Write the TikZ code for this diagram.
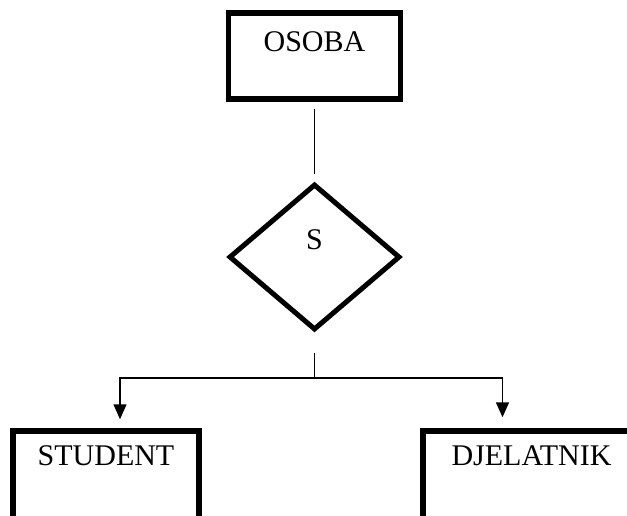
\documentclass[tikz,border=0pt]{standalone}
\usepackage{fontspec}
\setmainfont{Liberation Serif}
\usetikzlibrary{shapes.geometric,arrows.meta}
\begin{document}
\begin{tikzpicture}[x=1pt,y=-1pt,
  entity/.style={draw, rectangle, line width=5.5pt, inner sep=0pt},
  relation/.style={draw, diamond, line width=5pt, inner sep=0pt},
  caption/.style={anchor=north, inner sep=0pt, font=\fontsize{30}{32}\selectfont},
  link/.style={line width=1.5pt},
  isa/.style={link, -{Triangle[width=13pt,length=15pt]}}]
  \useasboundingbox (0,0) rectangle (627,515);
  \clip (0,0) rectangle (627,515);

  % entities
  \node[entity, minimum width=172pt, minimum height=86pt,
        label={[caption, yshift=-21pt]north:OSOBA}] (osoba) at (314.5,56) {};
  \node[entity, minimum width=186pt, minimum height=114pt,
        label={[caption, yshift=-17pt]north:STUDENT}] (student) at (106,488) {};
  \node[entity, minimum width=217pt, minimum height=114pt,
        label={[caption, yshift=-17pt]north:DJELATNIK}] (djelatnik) at (531.5,488) {};

  % specialisation
  \node[relation, minimum width=171pt, minimum height=146pt,
        label={[caption, yshift=-48pt]north:S}] (spec) at (314.5,257) {};

  \coordinate (split) at (314.5,378);

  % connectors
  \draw[link, shorten <=7pt, shorten >=8pt] (osoba.south) -- (spec.north);
  \draw[link, shorten <=20pt] (spec.south) -- (split);
  \draw[isa, shorten >=9pt] (split) -| ([xshift=14pt]student.north);
  \draw[isa, shorten >=11pt] (split) -| ([xshift=-29pt]djelatnik.north);
\end{tikzpicture}
\end{document}
